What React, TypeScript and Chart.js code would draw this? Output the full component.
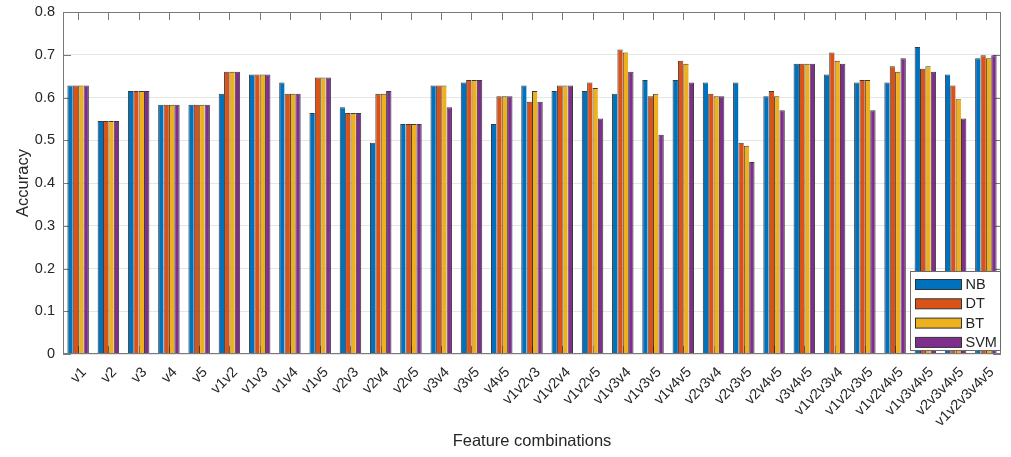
import React, { useEffect, useRef } from "react";
import { Chart, registerables } from "chart.js";

Chart.register(...registerables);

const categories = [
  "v1", "v2", "v3", "v4", "v5",
  "v1v2", "v1v3", "v1v4", "v1v5", "v2v3", "v2v4", "v2v5", "v3v4", "v3v5", "v4v5",
  "v1v2v3", "v1v2v4", "v1v2v5", "v1v3v4", "v1v3v5", "v1v4v5", "v2v3v4", "v2v3v5", "v2v4v5", "v3v4v5",
  "v1v2v3v4", "v1v2v3v5", "v1v2v4v5", "v1v3v4v5", "v2v3v4v5", "v1v2v3v4v5",
];

const nbValues = [
  0.628, 0.545, 0.615, 0.583, 0.583,
  0.609, 0.654, 0.635, 0.564, 0.577, 0.494, 0.538, 0.628, 0.635, 0.538,
  0.628, 0.615, 0.615, 0.609, 0.641, 0.641, 0.635, 0.635, 0.603, 0.679,
  0.654, 0.635, 0.635, 0.718, 0.654, 0.692,
];
const dtValues = [
  0.628, 0.545, 0.615, 0.583, 0.583,
  0.660, 0.654, 0.609, 0.647, 0.564, 0.609, 0.538, 0.628, 0.641, 0.603,
  0.590, 0.628, 0.635, 0.712, 0.603, 0.686, 0.609, 0.494, 0.615, 0.679,
  0.705, 0.641, 0.673, 0.667, 0.628, 0.699,
];
const btValues = [
  0.628, 0.545, 0.615, 0.583, 0.583,
  0.660, 0.654, 0.609, 0.647, 0.564, 0.609, 0.538, 0.628, 0.641, 0.603,
  0.615, 0.628, 0.622, 0.705, 0.609, 0.679, 0.603, 0.487, 0.603, 0.679,
  0.686, 0.641, 0.660, 0.673, 0.596, 0.692,
];
const svmValues = [
  0.628, 0.545, 0.615, 0.583, 0.583,
  0.660, 0.654, 0.609, 0.647, 0.564, 0.615, 0.538, 0.577, 0.641, 0.603,
  0.590, 0.628, 0.551, 0.660, 0.513, 0.635, 0.603, 0.449, 0.570, 0.679,
  0.679, 0.570, 0.692, 0.660, 0.551, 0.699,
];

const seriesNames = ["NB", "DT", "BT", "SVM"];
const seriesColors = ["#0072BD", "#D95319", "#EDB120", "#7E2F8E"];
const yTickValues = [0, 0.1, 0.2, 0.3, 0.4, 0.5, 0.6, 0.7, 0.8];

const FONT = "'Liberation Sans', Arial, Helvetica, sans-serif";
const TEXT = "#262626";
const AXIS = "#7a7a7a";

const boxPlugin = {
  id: "matlabBox",
  beforeDatasetsDraw(chart: any) {
    const { ctx, chartArea, scales } = chart;
    const { left, right, top, bottom } = chartArea;
    ctx.save();
    ctx.strokeStyle = AXIS;
    ctx.lineWidth = 1;
    const tl = 8;
    ctx.beginPath();
    categories.forEach((_, i) => {
      const px = Math.round(scales.x.getPixelForValue(i)) + 0.5;
      ctx.moveTo(px, top);
      ctx.lineTo(px, top + tl);
      ctx.moveTo(px, bottom);
      ctx.lineTo(px, bottom - tl);
    });
    yTickValues.forEach((v) => {
      const py = Math.round(scales.y.getPixelForValue(v)) + 0.5;
      ctx.moveTo(left, py);
      ctx.lineTo(left + tl, py);
      ctx.moveTo(right, py);
      ctx.lineTo(right - tl, py);
    });
    ctx.stroke();
    ctx.restore();
  },
  afterDatasetsDraw(chart: any) {
    const { ctx, chartArea, scales } = chart;
    const { left, right, top, bottom } = chartArea;
    ctx.save();
    ctx.strokeStyle = AXIS;
    ctx.lineWidth = 1;
    const l = Math.round(left) + 0.5;
    const r = Math.round(right) - 0.5;
    const t = Math.round(top) + 0.5;
    const b = Math.round(bottom) - 0.5;
    ctx.strokeRect(l, t, r - l, b - t);
    // rotated category labels
    ctx.fillStyle = TEXT;
    ctx.font = `14.5px ${FONT}`;
    ctx.textAlign = "right";
    ctx.textBaseline = "middle";
    categories.forEach((label, i) => {
      const px = scales.x.getPixelForValue(i);
      ctx.save();
      ctx.translate(px + 6, bottom + 16);
      ctx.rotate(-Math.PI / 4);
      ctx.fillText(label, 0, 0);
      ctx.restore();
    });
    ctx.restore();
  },
  afterDraw(chart: any) {
    const { ctx, chartArea } = chart;
    const { right, bottom } = chartArea;
    const boxW = 90;
    const boxH = 79;
    const bx = Math.round(right) - 1 - boxW + 0.5;
    const by = Math.round(bottom) - 4 - boxH + 0.5;
    ctx.save();
    ctx.fillStyle = "#ffffff";
    ctx.fillRect(bx, by, boxW, boxH);
    ctx.strokeStyle = "#6a6a6a";
    ctx.lineWidth = 1;
    ctx.strokeRect(bx, by, boxW, boxH);
    ctx.font = `14.5px ${FONT}`;
    ctx.textBaseline = "middle";
    ctx.textAlign = "left";
    seriesNames.forEach((name, i) => {
      const rowY = by + 8 + i * 19.3;
      ctx.fillStyle = seriesColors[i];
      ctx.fillRect(bx + 5, rowY, 46, 10);
      ctx.strokeStyle = "#333333";
      ctx.strokeRect(bx + 5, rowY, 46, 10);
      ctx.fillStyle = TEXT;
      ctx.fillText(name, bx + 55, rowY + 5.5);
    });
    ctx.restore();
  },
};

export default function App() {
  const canvasRef = useRef<HTMLCanvasElement | null>(null);

  useEffect(() => {
    document.body.style.margin = "0";
    const canvas = canvasRef.current;
    if (!canvas) return;
    const seriesValues = [nbValues, dtValues, btValues, svmValues];
    const chart = new Chart(canvas, {
      type: "bar",
      data: {
        labels: categories,
        datasets: seriesNames.map((name, i) => ({
          label: name,
          data: seriesValues[i],
          backgroundColor: seriesColors[i],
          borderColor: "rgba(25,25,25,0.85)",
          borderWidth:
            i === seriesNames.length - 1
              ? { left: 1, top: 1, right: 1, bottom: 0 }
              : { left: 1, top: 1, right: 0, bottom: 0 },
          borderSkipped: false,
          categoryPercentage: 0.71,
          barPercentage: 1.0,
        })),
      },
      options: {
        responsive: false,
        animation: false,
        maintainAspectRatio: false,
        layout: { padding: { top: 12, right: 10, left: 0, bottom: 0 } },
        plugins: {
          legend: { display: false },
          tooltip: { enabled: false },
        },
        scales: {
          x: {
            type: "category",
            offset: true,
            grid: { display: false, drawTicks: false },
            border: { display: false },
            ticks: { display: false },
            title: {
              display: true,
              text: "Feature combinations",
              color: TEXT,
              font: { family: FONT, size: 16.5 },
              padding: { top: 0, bottom: 6 },
            },
            afterFit(scale: any) {
              scale.height = 103;
              scale.paddingLeft = 0;
              scale.paddingRight = 0;
            },
          },
          y: {
            min: 0,
            max: 0.8,
            grid: { color: "#e6e6e6", drawTicks: false },
            border: { display: false },
            ticks: {
              stepSize: 0.1,
              padding: 8,
              color: TEXT,
              font: { family: FONT, size: 14.5 },
              callback: (v: any) => String(Math.round(Number(v) * 10) / 10),
            },
            title: {
              display: true,
              text: "Accuracy",
              color: TEXT,
              font: { family: FONT, size: 16.5 },
              padding: { top: 14, bottom: 0 },
            },
            afterFit(scale: any) {
              scale.width = 63;
              scale.paddingTop = 0;
              scale.paddingBottom = 0;
            },
          },
        },
      },
      plugins: [boxPlugin],
    });
    return () => chart.destroy();
  }, []);

  return (
    <div style={{ width: 1011, height: 457 }}>
      <canvas ref={canvasRef} width={1011} height={457} />
    </div>
  );
}
